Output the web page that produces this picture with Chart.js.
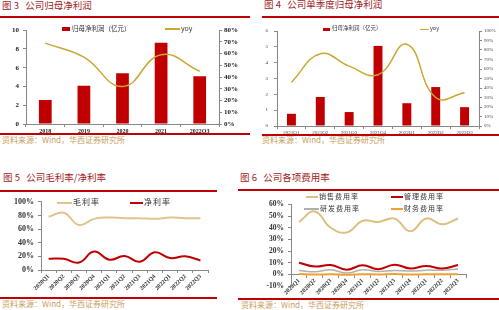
<!DOCTYPE html>
<html>
<head>
<meta charset="utf-8">
<script src="https://cdn.jsdelivr.net/npm/chart.js@4.4.0/dist/chart.umd.min.js"></script>
<style>
body { margin: 0; width: 499px; height: 310px; position: relative; background: #fff; overflow: hidden; font-family: "Noto Sans CJK SC", sans-serif; }
.t { position: absolute; font-size: 9.5px; color: #9e1b1b; white-space: nowrap; line-height: 1; }
.r { position: absolute; height: 2px; background: #c00000; }
.s { position: absolute; font-size: 8px; color: #c8a060; white-space: nowrap; line-height: 1; }
.box { position: absolute; }
.lg { position: absolute; color: #333; white-space: nowrap; line-height: 1; }
.sw { position: absolute; }
</style>
</head>
<body>
<!-- titles and rules -->
<div class="t" style="left:2px;top:1px">图 3&nbsp;&nbsp;&nbsp;公司归母净利润</div>
<div class="r" style="left:0;top:16px;width:250px"></div>
<div class="r" style="left:0;top:133px;width:250px"></div>
<div class="s" style="left:2px;top:136px">资料来源：Wind，华西证券研究所</div>

<div class="t" style="left:264px;top:0px">图 4&nbsp;&nbsp;&nbsp;公司单季度归母净利润</div>
<div class="r" style="left:262px;top:16px;width:237px"></div>
<div class="r" style="left:262px;top:134px;width:237px"></div>
<div class="s" style="left:262px;top:136px">资料来源：Wind，华西证券研究所</div>

<div class="t" style="left:3px;top:173px">图 5&nbsp;&nbsp;&nbsp;公司毛利率/净利率</div>
<div class="r" style="left:0;top:190px;width:217px"></div>
<div class="r" style="left:0;top:297px;width:217px"></div>
<div class="s" style="left:2px;top:300px">资料来源：Wind，华西证券研究所</div>

<div class="t" style="left:240px;top:173px">图 6&nbsp;&nbsp;&nbsp;公司各项费用率</div>
<div class="r" style="left:238px;top:189px;width:261px"></div>
<div class="r" style="left:238px;top:298px;width:261px"></div>
<div class="s" style="left:241px;top:301px">资料来源：Wind，华西证券研究所</div>

<!-- chart boxes -->
<div class="box" style="left:0;top:22px;width:249px;height:112px"><canvas id="c1"></canvas></div>
<div class="box" style="left:249px;top:22px;width:250px;height:114px"><canvas id="c2"></canvas></div>
<div class="box" style="left:0;top:193px;width:249px;height:103px"><canvas id="c3"></canvas></div>
<div class="box" style="left:249px;top:196px;width:250px;height:103px"><canvas id="c4"></canvas></div>

<!-- legends -->
<div class="sw" style="left:62px;top:27px;width:8px;height:4px;background:#c00000"></div>
<div class="lg" style="left:72px;top:25px;font-size:6.5px">归母净利润（亿元）</div>
<div class="sw" style="left:165px;top:28px;width:15px;height:1.5px;background:#c8a830"></div>
<div class="lg" style="left:181px;top:25px;font-size:7px">yoy</div>

<div class="sw" style="left:323px;top:28px;width:7px;height:3px;background:#c00000"></div>
<div class="lg" style="left:332px;top:26px;font-size:5.5px">归母净利润（亿元）</div>
<div class="sw" style="left:420px;top:29px;width:9px;height:1px;background:#c8a830"></div>
<div class="lg" style="left:430px;top:26px;font-size:5.5px">yoy</div>

<div class="sw" style="left:57px;top:202px;width:15px;height:2px;background:#e0c48c"></div>
<div class="lg" style="left:73px;top:198px;font-size:8px;letter-spacing:1px">毛利率</div>
<div class="sw" style="left:130px;top:202px;width:13px;height:2px;background:#c00000"></div>
<div class="lg" style="left:144px;top:198px;font-size:8px;letter-spacing:1px">净利率</div>

<div class="sw" style="left:306px;top:196px;width:12px;height:2px;background:#dcc080"></div>
<div class="lg" style="left:319px;top:193px;font-size:7px;letter-spacing:1px">销售费用率</div>
<div class="sw" style="left:391px;top:196px;width:12px;height:2px;background:#c00000"></div>
<div class="lg" style="left:404px;top:193px;font-size:7px;letter-spacing:1px">管理费用率</div>
<div class="sw" style="left:304px;top:208px;width:15px;height:1.5px;background:#b0b0b0"></div>
<div class="lg" style="left:320px;top:205px;font-size:7px;letter-spacing:1px">研发费用率</div>
<div class="sw" style="left:391px;top:208px;width:12px;height:2px;background:#f0a030"></div>
<div class="lg" style="left:404px;top:205px;font-size:7px;letter-spacing:1px">财务费用率</div>

<script>
// 图3 annual net profit
const yearLabels = ['2018', '2019', '2020', '2021', '2022Q3'];
const yearProfit = [2.55, 4.07, 5.4, 8.65, 5.1];
const yearYoy = [69, 57, 32, 59, 45];

// 图4 quarterly net profit
const quarterLabels = ['2021Q1', '2021Q2', '2021Q3', '2021Q4', '2022Q1', '2022Q2', '2022Q3'];
const quarterProfit = [0.77, 1.83, 0.88, 5.06, 1.44, 2.46, 1.19];
const quarterYoy = [46, 76, 63, 54, 86, 30, 35];

// 图5 / 图6 quarters
const qLabels = ['2020Q1', '2020Q2', '2020Q3', '2020Q4', '2021Q1', '2021Q2', '2021Q3', '2021Q4', '2022Q1', '2022Q2', '2022Q3'];
const grossMargin = [78, 84, 66, 75, 77, 76, 76, 75, 77, 76, 76];
const netMargin = [16.5, 16.5, 11, 27, 15, 20.5, 12, 26, 17.5, 20, 14];

const salesRate = [45, 54, 40, 36, 46, 45, 48, 37, 48, 43, 48];
const mgmtRate = [10, 6.7, 8, 4, 7.8, 4.4, 8.3, 5, 7.2, 5, 8];
const rdRate = [3.3, 2.2, 4, 1.1, 4, 2.5, 3.3, 2.8, 3.6, 3.6, 4.7];
const finRate = [0.2, -0.2, 0.1, -0.3, 0.1, -0.1, 0.2, -0.2, 0.1, 0, 0.1];

const axisColor = '#888';
const serif = 'Liberation Serif';
const pct = v => v + '%';

function axisGrid() {
    return { display: true, drawOnChartArea: false, drawTicks: true, tickLength: 3, color: axisColor };
}

const noPlugins = { legend: { display: false }, tooltip: { enabled: false } };

new Chart(document.getElementById('c1'), {
    type: 'bar',
    data: {
        labels: yearLabels,
        datasets: [{
            type: 'line',
            label: 'yoy',
            data: yearYoy,
            yAxisID: 'y1',
            borderColor: '#c8a830',
            borderWidth: 1.5,
            pointRadius: 0,
            tension: 0.45,
            order: 0
        }, {
            label: '归母净利润（亿元）',
            data: yearProfit,
            backgroundColor: '#c00000',
            barPercentage: 0.33,
            categoryPercentage: 1,
            order: 1
        }]
    },
    options: {
        responsive: true,
        maintainAspectRatio: false,
        animation: false,
        layout: { padding: { top: 8, left: 0, right: 0, bottom: 0 } },
        plugins: noPlugins,
        scales: {
            x: {
                grid: axisGrid(),
                border: { color: axisColor },
                ticks: { color: '#222', padding: 1, maxRotation: 0, font: { family: serif, size: 6, weight: 'bold' } },
                afterFit: s => { s.height = 10; }
            },
            y: {
                min: 0, max: 10,
                grid: axisGrid(),
                border: { color: axisColor },
                ticks: { stepSize: 2, color: '#222', padding: 4, font: { family: serif, size: 7, weight: 'bold' } },
                afterFit: s => { s.width = 26; }
            },
            y1: {
                position: 'right',
                min: 0, max: 80,
                grid: axisGrid(),
                border: { color: axisColor },
                ticks: { stepSize: 10, color: '#222', padding: 2, callback: pct, font: { family: serif, size: 7, weight: 'bold' } },
                afterFit: s => { s.width = 30; }
            }
        }
    }
});

new Chart(document.getElementById('c2'), {
    type: 'bar',
    data: {
        labels: quarterLabels,
        datasets: [{
            type: 'line',
            label: 'yoy',
            data: quarterYoy,
            yAxisID: 'y1',
            borderColor: '#c8a830',
            borderWidth: 1.5,
            pointRadius: 0,
            tension: 0.45,
            order: 0
        }, {
            label: '归母净利润（亿元）',
            data: quarterProfit,
            backgroundColor: '#c00000',
            barPercentage: 0.31,
            categoryPercentage: 1,
            order: 1
        }]
    },
    options: {
        responsive: true,
        maintainAspectRatio: false,
        animation: false,
        layout: { padding: { top: 8, left: 0, right: 0, bottom: 0 } },
        plugins: noPlugins,
        scales: {
            x: {
                grid: axisGrid(),
                border: { color: axisColor },
                ticks: { color: '#444', padding: 1, maxRotation: 0, font: { family: serif, size: 5 } },
                afterFit: s => { s.height = 10; }
            },
            y: {
                min: 0, max: 6,
                grid: axisGrid(),
                border: { color: axisColor },
                ticks: { stepSize: 1, color: '#444', padding: 6, font: { family: serif, size: 5 } },
                afterFit: s => { s.width = 28; }
            },
            y1: {
                position: 'right',
                min: 0, max: 100,
                grid: axisGrid(),
                border: { color: axisColor },
                ticks: { stepSize: 10, color: '#444', padding: 2, callback: pct, font: { family: serif, size: 5 } },
                afterFit: s => { s.width = 20; }
            }
        }
    }
});

new Chart(document.getElementById('c3'), {
    type: 'line',
    data: {
        labels: qLabels,
        datasets: [{
            label: '毛利率',
            data: grossMargin,
            borderColor: '#e0c48c',
            borderWidth: 2,
            pointRadius: 0,
            tension: 0.45
        }, {
            label: '净利率',
            data: netMargin,
            borderColor: '#c00000',
            borderWidth: 2,
            pointRadius: 0,
            tension: 0.45
        }]
    },
    options: {
        responsive: true,
        maintainAspectRatio: false,
        animation: false,
        layout: { padding: { top: 3, left: 0, right: 41, bottom: 0 } },
        plugins: noPlugins,
        scales: {
            x: {
                offset: true,
                grid: Object.assign(axisGrid(), { offset: true }),
                border: { color: axisColor },
                ticks: { color: '#333', padding: 0, minRotation: 45, maxRotation: 45, font: { family: serif, size: 6, weight: 'bold' } },
                afterFit: s => { s.height = 26; }
            },
            y: {
                min: 0, max: 100,
                grid: axisGrid(),
                border: { color: axisColor },
                ticks: { stepSize: 20, color: '#333', padding: 4, callback: pct, font: { family: serif, size: 8, weight: 'bold' } },
                afterFit: s => { s.width = 41; }
            }
        }
    }
});

new Chart(document.getElementById('c4'), {
    type: 'line',
    data: {
        labels: qLabels,
        datasets: [{
            label: '销售费用率',
            data: salesRate,
            borderColor: '#dcc080',
            borderWidth: 2,
            pointRadius: 0,
            tension: 0.45
        }, {
            label: '管理费用率',
            data: mgmtRate,
            borderColor: '#c00000',
            borderWidth: 2,
            pointRadius: 0,
            tension: 0.45
        }, {
            label: '研发费用率',
            data: rdRate,
            borderColor: '#b0b0b0',
            borderWidth: 1.5,
            pointRadius: 0,
            tension: 0.45
        }, {
            label: '财务费用率',
            data: finRate,
            borderColor: '#f0a030',
            borderWidth: 2,
            pointRadius: 0,
            tension: 0.45
        }]
    },
    options: {
        responsive: true,
        maintainAspectRatio: false,
        animation: false,
        layout: { padding: { top: 5, left: 0, right: 33, bottom: 13 } },
        plugins: noPlugins,
        scales: {
            x: {
                position: { y: 0 },
                offset: true,
                grid: Object.assign(axisGrid(), { offset: true }),
                border: { color: axisColor },
                ticks: { color: '#333', padding: 0, minRotation: 45, maxRotation: 45, font: { family: serif, size: 6, weight: 'bold' } },
                afterFit: s => { s.height = 1; }
            },
            y: {
                min: -10, max: 60,
                grid: axisGrid(),
                border: { color: axisColor },
                ticks: { stepSize: 10, color: '#333', padding: 4, callback: pct, font: { family: serif, size: 7.5, weight: 'bold' } },
                afterFit: s => { s.width = 42; }
            }
        }
    }
});
</script>
</body>
</html>
